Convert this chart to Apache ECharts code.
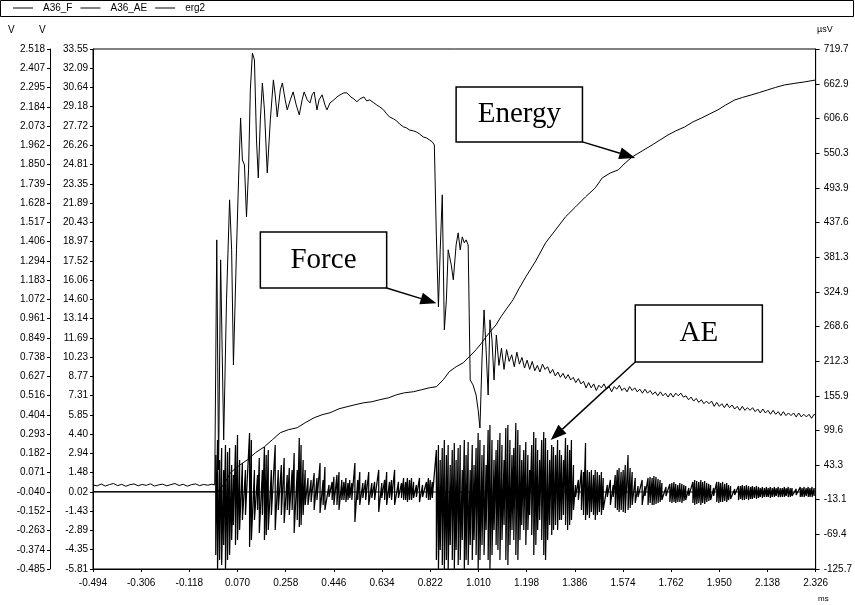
<!DOCTYPE html>
<html>
<head>
<meta charset="utf-8">
<script src="https://cdn.jsdelivr.net/npm/echarts@6/dist/echarts.min.js"></script>
<style>
  html, body { margin: 0; padding: 0; background: #fff; }
  #chart { width: 855px; height: 605px; }
</style>
</head>
<body>
<div id="chart"></div>
<script>
// ---- axis tick labels ----
const timeTicks = ["-0.494","-0.306","-0.118","0.070","0.258","0.446","0.634","0.822","1.010","1.198","1.386","1.574","1.762","1.950","2.138","2.326"];
const aeVoltTicks = ["2.518","2.407","2.295","2.184","2.073","1.962","1.850","1.739","1.628","1.517","1.406","1.294","1.183","1.072","0.961","0.849","0.738","0.627","0.516","0.404","0.293","0.182","0.071","-0.040","-0.152","-0.263","-0.374","-0.485"];
const forceVoltTicks = ["33.55","32.09","30.64","29.18","27.72","26.26","24.81","23.35","21.89","20.43","18.97","17.52","16.06","14.60","13.14","11.69","10.23","8.77","7.31","5.85","4.40","2.94","1.48","0.02","-1.43","-2.89","-4.35","-5.81"];
const energyTicks = ["719.7","662.9","606.6","550.3","493.9","437.6","381.3","324.9","268.6","212.3","155.9","99.6","43.3","-13.1","-69.4","-125.7"];

// ---- A36_F : force channel [ms, V] ----
const forceTrace = [
  [-0.494,0.55],[-0.478,0.48],[-0.462,0.62],[-0.446,0.47],[-0.430,0.58],[-0.414,0.66],[-0.398,0.50],[-0.382,0.60],
  [-0.366,0.45],[-0.350,0.57],[-0.334,0.63],[-0.318,0.49],[-0.302,0.59],[-0.286,0.52],[-0.270,0.64],[-0.254,0.47],
  [-0.238,0.56],[-0.222,0.61],[-0.206,0.48],[-0.190,0.58],[-0.174,0.66],[-0.158,0.51],[-0.142,0.60],[-0.126,0.46],
  [-0.110,0.57],[-0.094,0.63],[-0.078,0.50],[-0.062,0.59],[-0.046,0.53],[-0.030,0.61],[-0.019,0.55],
  [-0.011,19.10],[-0.004,1.69],[0.004,17.59],[0.016,3.96],[0.027,14.56],[0.039,22.13],[0.047,18.35],[0.054,9.63],
  [0.066,18.35],[0.074,23.64],[0.082,28.33],[0.089,25.15],[0.097,24.78],[0.105,20.84],[0.113,24.40],[0.120,30.45],
  [0.128,33.25],[0.136,32.72],[0.144,26.67],[0.151,23.79],[0.159,28.18],[0.167,30.98],[0.175,28.94],[0.186,24.17],
  [0.198,28.18],[0.210,31.21],[0.217,30.08],[0.225,28.41],[0.237,30.45],[0.245,30.98],[0.256,29.70],[0.264,28.94],
  [0.276,29.70],[0.287,30.30],[0.299,29.32],[0.311,28.56],[0.322,29.70],[0.330,30.30],[0.342,29.70],[0.353,29.47],
  [0.361,30.08],[0.369,30.30],[0.380,28.94],[0.388,29.70],[0.400,30.08],[0.411,29.32],[0.419,28.94],[0.431,29.47],
  [0.446,29.70],[0.458,29.92],[0.470,30.08],[0.485,30.23],[0.497,30.23],[0.512,29.92],[0.524,29.77],[0.536,29.55],
  [0.547,29.77],[0.563,29.92],[0.574,29.62],[0.586,29.70],[0.602,29.47],[0.613,29.32],[0.625,29.17],[0.640,28.94],
  [0.652,28.64],[0.663,28.41],[0.679,28.26],[0.691,28.11],[0.702,27.88],[0.718,27.65],[0.729,27.58],[0.741,27.42],
  [0.757,27.35],[0.768,27.27],[0.780,27.12],[0.795,26.89],[0.807,26.82],[0.819,26.67],[0.830,26.52],[0.838,26.29],
  [0.842,26.44],[0.846,19.33],[0.854,14.03],[0.861,18.35],[0.869,22.51],[0.877,12.29],[0.885,14.56],[0.892,18.35],
  [0.904,17.21],[0.912,16.08],[0.923,18.72],[0.931,19.63],[0.939,18.35],[0.947,19.33],[0.955,18.88],[0.962,19.10],
  [0.970,18.72],[0.978,8.50],[0.989,8.12],[1.001,7.36],[1.009,6.23],[1.016,4.86],[1.024,10.01],[1.032,13.80],
  [1.040,10.77],[1.048,7.36],[1.055,13.05],[1.063,11.53],[1.071,8.50],[1.080,11.90],
  [1.09,9.6],[1.10,10.9],[1.11,9.3],[1.12,10.8],[1.13,9.9],[1.14,10.4],[1.15,9.5],[1.16,10.6],[1.17,9.7],[1.18,10.2],
  [1.19,9.4],[1.20,10.0],[1.21,9.3],[1.22,9.9],[1.23,9.2],[1.24,9.6],[1.25,9.1],[1.26,9.7],[1.27,9.3],[1.28,9.5],
  [1.29,9.0],[1.30,9.3],[1.31,8.8],[1.32,9.1],[1.33,8.7],[1.34,9.0],[1.35,8.6],[1.36,8.9],[1.37,8.5],[1.38,8.7],
  [1.39,8.3],[1.40,8.6],[1.41,8.2],[1.42,8.4],[1.43,7.9],[1.44,8.3],[1.45,7.9],[1.46,8.2],[1.47,7.7],[1.48,8.1],
  [1.49,7.9],[1.50,8.2],[1.51,7.8],[1.52,8.0],[1.53,7.6],[1.54,8.0],[1.55,7.8],[1.56,8.1],[1.57,7.7],[1.58,7.9],
  [1.59,7.6],[1.60,8.0],[1.61,7.7],[1.62,7.9],[1.63,7.6],[1.64,7.8],[1.65,7.5],[1.66,7.8],[1.67,7.5],[1.68,7.7],
  [1.69,7.4],[1.70,7.6],[1.71,7.3],[1.72,7.6],[1.73,7.3],[1.74,7.5],[1.75,7.2],[1.76,7.5],[1.77,7.2],[1.78,7.5],
  [1.79,7.3],[1.80,7.5],[1.81,7.2],[1.82,7.3],[1.83,7.0],[1.84,7.2],[1.85,6.9],[1.86,7.1],[1.87,6.8],[1.88,7.0],
  [1.89,6.7],[1.90,6.9],[1.91,6.7],[1.92,6.9],[1.93,6.5],[1.94,6.8],[1.95,6.5],[1.96,6.7],[1.97,6.4],[1.98,6.7],
  [1.99,6.4],[2.00,6.6],[2.01,6.3],[2.02,6.5],[2.03,6.2],[2.04,6.5],[2.05,6.2],[2.06,6.4],[2.07,6.2],[2.08,6.4],
  [2.09,6.1],[2.10,6.3],[2.11,6.0],[2.12,6.3],[2.13,6.0],[2.14,6.2],[2.15,5.9],[2.16,6.2],[2.17,5.9],[2.18,6.1],
  [2.19,5.8],[2.20,6.1],[2.21,5.8],[2.22,6.0],[2.23,5.8],[2.24,6.0],[2.25,5.7],[2.26,6.0],[2.27,5.7],[2.28,5.9],
  [2.29,5.7],[2.30,5.9],[2.31,5.6],[2.32,5.9],[2.326,5.8]
];

// ---- A36_AE : acoustic emission, rest level and burst peaks [ms, high, low] ----
const aeRestLevel = 0.02;
const aeSpikes = [
  [-0.015,2.82,-4.75],[-0.008,3.96,-5.8],[0.000,2.44,-5.13],[0.008,3.35,-5.51],[0.016,1.69,-3.99],[0.023,3.58,-5.8],
  [0.031,3.05,-5.13],[0.039,3.35,-4.75],[0.047,2.06,-3.61],[0.054,1.31,-2.48],[0.062,3.58,-3.99],[0.070,4.33,-3.61],
  [0.078,2.44,-2.86],[0.089,2.21,-2.10],[0.101,1.69,-1.72],[0.117,4.49,-4.14],[0.124,3.96,-3.61],[0.136,1.69,-2.10],
  [0.148,1.31,-1.34],[0.155,2.59,-3.08],[0.167,1.69,-1.72],[0.175,3.43,-3.61],[0.182,2.82,-3.24],[0.190,3.20,-2.86],
  [0.202,1.69,-1.72],[0.217,3.58,-2.86],[0.229,1.69,-1.34],[0.241,2.06,-1.72],[0.252,2.59,-2.33],[0.264,1.31,-1.34],
  [0.272,1.84,-1.72],[0.283,1.69,-1.34],[0.291,2.97,-3.08],[0.303,1.69,-2.10],[0.311,4.11,-2.63],[0.318,3.58,-2.48],
  [0.326,2.44,-1.72],[0.334,1.69,-0.96],[0.345,1.08,-0.96],[0.357,0.93,-0.74],[0.369,1.46,-1.34],[0.380,1.08,-0.59],
  [0.392,2.21,-1.57],[0.404,0.93,-0.96],[0.411,1.91,-1.34],[0.427,0.55,-0.36],[0.439,0.78,-0.59],[0.446,1.16,-0.96],
  [0.458,1.31,-0.96],[0.466,1.53,-1.34],[0.477,0.93,-0.59],[0.485,0.78,-0.59],[0.493,1.08,-0.74],[0.501,0.70,-0.59],
  [0.508,0.93,-0.43],[0.516,0.70,-0.59],[0.528,2.21,-2.25],[0.539,0.93,-0.59],[0.547,1.53,-0.96],[0.559,0.70,-0.43],
  [0.570,0.93,-0.59],[0.582,1.53,-0.96],[0.594,0.70,-0.43],[0.605,0.78,-0.59],[0.621,1.69,-1.49],[0.633,0.70,-0.43],
  [0.644,0.93,-0.59],[0.652,1.53,-0.96],[0.663,0.78,-0.43],[0.671,0.93,-0.59],[0.683,1.69,-0.96],[0.698,0.78,-0.43],
  [0.710,0.70,-0.43],[0.718,1.08,-0.59],[0.726,0.78,-0.59],[0.733,1.08,-0.74],[0.741,0.93,-0.59],[0.749,1.08,-0.59],
  [0.757,0.78,-0.43],[0.768,0.55,-0.36],[0.780,1.08,-0.74],[0.792,0.55,-0.36],[0.807,0.78,-0.43],[0.815,1.08,-0.59],
  [0.822,0.93,-0.59],[0.830,0.78,-0.43],
  [0.846,3.20,-5.13],[0.854,3.58,-5.8],[0.861,2.44,-4.37],[0.869,3.35,-5.51],[0.877,3.96,-5.8],[0.885,2.82,-5.13],
  [0.892,3.58,-5.8],[0.900,2.06,-3.99],[0.908,3.20,-5.13],[0.916,3.73,-5.8],[0.923,2.44,-4.37],[0.931,3.35,-5.51],
  [0.939,3.58,-5.13],[0.947,1.69,-3.61],[0.955,3.96,-5.8],[0.962,2.82,-5.13],[0.970,3.81,-5.51],[0.978,1.69,-3.99],
  [0.986,3.58,-5.13],[0.993,2.06,-3.61],[1.001,3.35,-4.75],[1.009,4.49,-5.8],[1.016,3.96,-5.13],[1.024,2.82,-3.99],
  [1.032,3.58,-4.75],[1.040,2.06,-2.86],[1.048,4.71,-5.13],[1.055,5.09,-5.8],[1.063,3.96,-4.75],[1.071,2.44,-2.86],
  [1.079,3.20,-3.99],[1.086,3.96,-4.37],[1.094,4.49,-5.13],[1.102,3.58,-3.61],[1.110,2.44,-2.48],[1.117,4.86,-5.13],
  [1.125,5.09,-5.51],[1.133,3.96,-3.99],[1.141,2.82,-2.86],[1.148,3.35,-3.61],[1.156,5.24,-4.75],[1.164,4.71,-5.13],
  [1.172,3.58,-3.61],[1.179,2.44,-2.48],[1.187,3.20,-2.86],[1.195,3.81,-3.99],[1.203,2.82,-2.86],[1.210,1.69,-1.72],
  [1.218,3.58,-3.24],[1.226,4.56,-4.75],[1.234,4.11,-3.99],[1.241,3.20,-2.86],[1.249,2.44,-2.10],[1.257,3.96,-3.61],
  [1.265,4.56,-4.75],[1.272,4.11,-5.13],[1.280,3.20,-3.61],[1.288,2.44,-2.48],[1.296,3.58,-3.24],[1.303,3.43,-2.86],
  [1.311,2.82,-2.48],[1.319,3.96,-2.86],[1.327,3.20,-2.10],[1.334,2.82,-2.10],[1.342,2.44,-1.72],[1.350,4.11,-2.48],
  [1.358,3.58,-2.86],[1.366,3.20,-2.48],[1.373,3.96,-2.10],[1.381,2.06,-1.34],[1.389,0.55,-0.36],[1.400,0.93,-0.59],
  [1.412,1.69,-1.34],[1.420,1.53,-1.72],[1.428,3.73,-2.10],[1.435,1.69,-1.72],[1.443,1.53,-1.95],[1.451,1.69,-1.49],
  [1.459,1.31,-1.72],[1.466,1.69,-2.10],[1.474,1.53,-1.72],[1.482,1.31,-1.49],[1.490,1.53,-1.72],[1.497,1.08,-1.34],
  [1.513,0.55,-0.36],[1.525,0.93,-0.96],[1.536,0.55,-0.36],[1.544,1.31,-1.19],[1.552,1.69,-1.34],[1.559,1.84,-1.49],
  [1.567,1.53,-1.34],[1.575,1.69,-1.49],[1.583,2.06,-1.57],[1.594,2.82,-1.34],[1.602,1.84,-1.19],[1.610,1.53,-0.96],
  [1.622,1.08,-0.81],[1.633,0.47,-0.36],[1.649,0.93,-0.96],[1.660,0.47,-0.28],[1.672,1.08,-0.96],[1.680,1.16,-0.81],
  [1.688,1.08,-0.96],[1.695,1.23,-0.96],[1.703,1.16,-0.89],[1.711,1.00,-0.81],[1.719,0.93,-0.74],[1.726,0.70,-0.59],
  [1.742,0.40,-0.28],[1.757,0.63,-0.74],[1.765,0.70,-0.81],[1.773,0.78,-0.74],[1.780,0.63,-0.81],[1.788,0.55,-0.74],
  [1.796,0.70,-0.74],[1.804,0.63,-0.81],[1.812,0.55,-0.66],[1.819,0.47,-0.59],[1.831,0.32,-0.28],[1.847,0.78,-0.81],
  [1.854,0.93,-0.96],[1.862,0.85,-0.89],[1.870,0.78,-0.81],[1.878,0.93,-0.96],[1.885,0.78,-0.81],[1.893,0.85,-0.89],
  [1.901,0.70,-0.74],[1.909,0.63,-0.66],[1.916,0.55,-0.59],[1.928,0.32,-0.28],[1.940,0.78,-0.74],[1.948,0.78,-0.81],
  [1.955,0.70,-0.74],[1.963,0.78,-0.74],[1.971,0.63,-0.66],[1.979,0.70,-0.74],[1.986,0.55,-0.59],[1.994,0.47,-0.51],
  [2.010,0.25,-0.21],[2.025,0.47,-0.59],[2.033,0.47,-0.51],[2.040,0.55,-0.59],[2.048,0.47,-0.59],[2.056,0.55,-0.51],
  [2.064,0.47,-0.59],[2.072,0.40,-0.51],[2.079,0.47,-0.51],[2.087,0.40,-0.43],[2.095,0.47,-0.51],[2.103,0.40,-0.43],
  [2.110,0.32,-0.36],[2.118,0.40,-0.43],[2.126,0.32,-0.36],[2.134,0.40,-0.36],[2.141,0.32,-0.36],[2.149,0.40,-0.43],
  [2.157,0.32,-0.36],[2.165,0.40,-0.36],[2.172,0.32,-0.28],[2.180,0.40,-0.36],[2.188,0.32,-0.36],[2.196,0.32,-0.36],
  [2.204,0.40,-0.36],[2.211,0.32,-0.28],[2.219,0.40,-0.36],[2.227,0.32,-0.36],[2.234,0.32,-0.28],[2.250,0.25,-0.21],
  [2.266,0.40,-0.36],[2.273,0.32,-0.36],[2.281,0.40,-0.36],[2.289,0.32,-0.28],[2.297,0.40,-0.36],[2.304,0.32,-0.36],
  [2.312,0.40,-0.36],[2.320,0.32,-0.28]
];

// ---- erg2 : cumulative AE energy [ms, µVs] ----
const energyTrace = [
  [-0.494,0],[-0.008,0],[0.016,11.4],[0.043,30.9],[0.070,40.6],[0.109,52.0],[0.140,63.4],[0.175,73.1],[0.206,84.5],
  [0.237,95.9],[0.268,100.7],[0.303,104.0],[0.334,112.1],[0.369,120.2],[0.400,125.1],[0.431,128.3],[0.466,134.8],
  [0.497,138.1],[0.528,141.3],[0.563,144.6],[0.594,146.2],[0.625,149.5],[0.660,152.7],[0.691,157.6],[0.722,160.8],
  [0.757,162.5],[0.788,165.7],[0.819,169.0],[0.846,170.6],[0.873,182.0],[0.896,195.0],[0.923,203.1],[0.951,209.6],
  [0.974,219.3],[1.001,230.7],[1.020,240.4],[1.040,251.8],[1.059,261.6],[1.079,271.3],[1.098,284.3],[1.117,295.7],
  [1.145,311.9],[1.168,329.8],[1.195,349.3],[1.234,375.3],[1.272,404.5],[1.311,425.6],[1.350,446.8],[1.389,463.0],
  [1.428,479.3],[1.466,493.9],[1.493,510.1],[1.525,518.2],[1.556,523.1],[1.583,534.5],[1.610,544.2],[1.649,554.0],
  [1.688,563.7],[1.719,571.9],[1.750,580.0],[1.780,586.5],[1.815,593.0],[1.847,601.1],[1.881,607.6],[1.912,614.1],
  [1.944,620.6],[1.975,628.7],[2.010,636.8],[2.040,640.9],[2.075,645.0],[2.107,649.0],[2.138,653.1],[2.169,657.2],
  [2.204,661.2],[2.242,663.7],[2.281,666.1],[2.326,669.3]
];

// ---- callout boxes, in data coordinates of the force axis [ms, V] ----
const callouts = [
  { text: 'Energy', box: [0.923, 30.68, 1.416, 26.52], tail: [1.416, 26.52], tip: [1.622, 25.30] },
  { text: 'Force',  box: [0.159, 19.70, 0.652, 15.46], tail: [0.652, 15.46], tip: [0.846, 14.30] },
  { text: 'AE',     box: [1.622, 14.18, 2.118, 9.86],  tail: [1.622, 9.86],  tip: [1.292, 3.96] }
];

const T_MIN = parseFloat(timeTicks[0]);
const T_MAX = parseFloat(timeTicks[timeTicks.length - 1]);

const labelFrom = ticks => v => {
  const s = ticks.find(t => Math.abs(parseFloat(t) - v) < 1e-6);
  return s === undefined ? '' : s;
};
const nums = ticks => ticks.map(Number);

// AE burst samples drawn as a min/max trace
const aeTrace = [];
aeSpikes.forEach(([t, hi, lo]) => { aeTrace.push([t, hi], [t, lo]); });

const FONT = 'Arial, "Liberation Sans", sans-serif';
const black = '#000';

const valueAxis = (ticks, extra) => Object.assign({
  type: 'value',
  min: Math.min(...nums(ticks)),
  max: Math.max(...nums(ticks)),
  axisLine: { show: true, onZero: false, lineStyle: { color: black, width: 1 } },
  axisTick: { show: true, length: 3, lineStyle: { color: black }, customValues: nums(ticks) },
  axisLabel: { color: black, fontSize: 10, fontFamily: FONT, margin: 5,
               customValues: nums(ticks), formatter: labelFrom(ticks) },
  splitLine: { show: false }
}, extra);

const chart = echarts.init(document.getElementById('chart'), null, { renderer: 'canvas' });

const lineStyle = { color: black, width: 1 };
chart.setOption({
  animation: false,
  backgroundColor: '#fff',
  textStyle: { fontFamily: FONT },
  legend: {
    left: 8, top: -2,
    icon: 'rect',
    itemWidth: 20, itemHeight: 1, itemGap: 8,
    textStyle: { fontSize: 10, color: black, width: 52, padding: [0, 0, 0, 5] },
    data: ['A36_F', 'A36_AE', 'erg2'],
    selectedMode: false
  },
  grid: { left: 93, right: 34, top: 49, bottom: 36, show: true, borderColor: black, borderWidth: 1 },
  xAxis: valueAxis(timeTicks, {
    axisLabel: { color: black, fontSize: 10, fontFamily: FONT, margin: 9,
                 customValues: nums(timeTicks), formatter: labelFrom(timeTicks) }
  }),
  yAxis: [
    valueAxis(aeVoltTicks, { position: 'left', offset: 43 }),
    valueAxis(forceVoltTicks, { position: 'left', offset: 0 }),
    valueAxis(energyTicks, { position: 'right', offset: 0,
      axisTick: { show: true, length: 4, lineStyle: { color: black }, customValues: nums(energyTicks) },
      axisLabel: { color: black, fontSize: 10, fontFamily: FONT, margin: 8, align: 'left',
                   customValues: nums(energyTicks), formatter: labelFrom(energyTicks) } })
  ],
  series: [
    { name: 'A36_F', type: 'line', yAxisIndex: 1, data: forceTrace, symbol: 'none', lineStyle, itemStyle: { color: black }, z: 3 },
    { name: 'A36_AE', type: 'line', yAxisIndex: 1, data: aeTrace, symbol: 'none', lineStyle: { color: black, width: 1.25 }, itemStyle: { color: black }, z: 2 },
    { name: 'A36_AE', type: 'line', yAxisIndex: 1, data: [[T_MIN, aeRestLevel], [T_MAX, aeRestLevel]], symbol: 'none', lineStyle, itemStyle: { color: black }, z: 2 },
    { name: 'erg2', type: 'line', yAxisIndex: 2, data: energyTrace, symbol: 'none', lineStyle, itemStyle: { color: black }, z: 4 }
  ]
});

// ---- callouts, unit names and legend frame ----
const toPx = p => chart.convertToPixel({ xAxisIndex: 0, yAxisIndex: 1 }, p);
const graphics = [
  { type: 'rect', shape: { x: 0.5, y: 0.5, width: 853, height: 16 }, style: { fill: null, stroke: black, lineWidth: 1 }, z: 1 },
  { type: 'text', x: 8, y: 25, style: { text: 'V', fontSize: 10, fontFamily: FONT, fill: black } },
  { type: 'text', x: 39, y: 25, style: { text: 'V', fontSize: 10, fontFamily: FONT, fill: black } },
  { type: 'text', x: 817, y: 25, style: { text: 'µsV', fontSize: 9, fontFamily: FONT, fill: black } },
  { type: 'text', x: 818, y: 595, style: { text: 'ms', fontSize: 8, fontFamily: FONT, fill: black } }
];
callouts.forEach(c => {
  const a = toPx([c.box[0], c.box[1]]);
  const b = toPx([c.box[2], c.box[3]]);
  const tail = toPx(c.tail), tip = toPx(c.tip);
  graphics.push({
    type: 'rect', z: 10,
    shape: { x: a[0], y: a[1], width: b[0] - a[0], height: b[1] - a[1] },
    style: { fill: '#fff', stroke: black, lineWidth: 1.5 }
  });
  graphics.push({
    type: 'text', z: 11, x: (a[0] + b[0]) / 2, y: (a[1] + b[1]) / 2,
    style: { text: c.text, fontSize: 29, fontFamily: '"Liberation Serif", "Times New Roman", serif',
             fill: black, align: 'center', verticalAlign: 'middle' }
  });
  const dx = tip[0] - tail[0], dy = tip[1] - tail[1];
  const len = Math.hypot(dx, dy), ux = dx / len, uy = dy / len;
  const headLen = 16, headHalf = 6;
  const bx = tip[0] - ux * headLen, by = tip[1] - uy * headLen;
  graphics.push({
    type: 'line', z: 10,
    shape: { x1: tail[0], y1: tail[1], x2: bx, y2: by },
    style: { stroke: black, lineWidth: 1.5 }
  });
  graphics.push({
    type: 'polygon', z: 10,
    shape: { points: [tip, [bx - uy * headHalf, by + ux * headHalf], [bx + uy * headHalf, by - ux * headHalf]] },
    style: { fill: black }
  });
});
chart.setOption({ graphic: graphics });
</script>
</body>
</html>
